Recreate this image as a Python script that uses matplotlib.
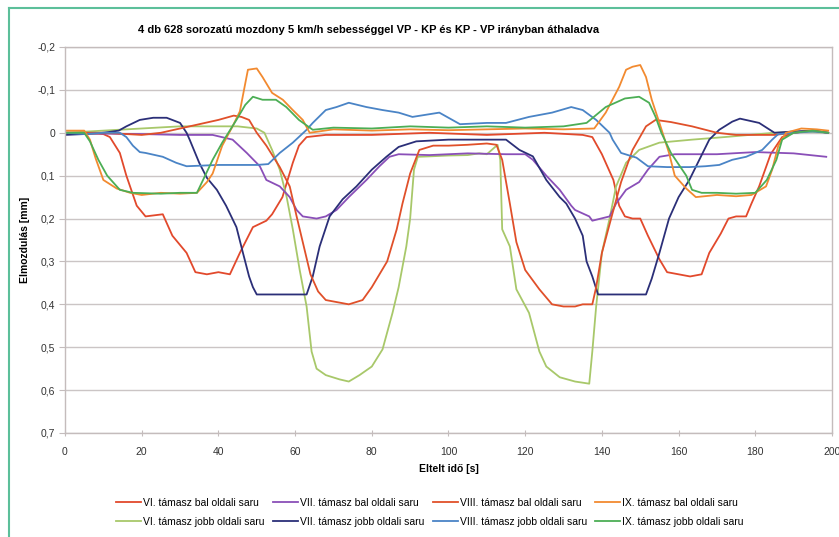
import matplotlib
matplotlib.use('Agg')
import matplotlib.pyplot as plt
from matplotlib.lines import Line2D
from matplotlib.ticker import FuncFormatter, MultipleLocator

plt.rcParams['font.family'] = ['Liberation Sans', 'DejaVu Sans']

# elmozdulás [mm] a támaszoknál, idő [s]
t_vi_bal = [0, 5, 10, 11.7, 14.3, 16, 18.7, 21, 25.5, 28, 31.7, 34, 37, 40, 43, 45.6, 49,
            52.5, 54, 56.7, 59.4, 61, 63, 68, 80, 95, 110, 125, 135, 137.5, 140, 143,
            144.5, 146, 148, 150, 152, 155, 157, 160, 163, 166, 168, 171, 173, 175,
            177.6, 179, 181, 184, 187, 190, 195, 199]
y_vi_bal = [0, 0, 0.003, 0.01, 0.047, 0.10, 0.17, 0.195, 0.19, 0.24, 0.28, 0.325, 0.33,
            0.325, 0.33, 0.28, 0.22, 0.205, 0.19, 0.15, 0.07, 0.03, 0.01, 0.005, 0.005,
            0.0, 0.005, 0.0, 0.005, 0.01, 0.05, 0.11, 0.17, 0.195, 0.2, 0.2, 0.24, 0.295,
            0.325, 0.33, 0.335, 0.33, 0.28, 0.235, 0.2, 0.195, 0.195, 0.165, 0.125, 0.05,
            0.01, 0.0, -0.005, 0.0]

t_vii_bal = [0, 10, 20, 30, 38.5, 43.7, 47.4, 50.8, 52.5, 56, 58.6, 60.4, 62, 65.6, 68,
             70.8, 74, 78.6, 82, 84.6, 87, 95, 105, 115, 120, 122, 125.5, 129, 132, 133,
             136.7, 137.5, 142, 143.7, 146.3, 149.7, 152, 155, 159, 170, 180, 190, 198.5]
y_vii_bal = [0, 0.002, 0.003, 0.005, 0.005, 0.016, 0.047, 0.078, 0.11, 0.125, 0.15, 0.18,
             0.195, 0.2, 0.195, 0.18, 0.15, 0.11, 0.078, 0.056, 0.05, 0.052, 0.048, 0.05,
             0.05, 0.063, 0.1, 0.133, 0.17, 0.18, 0.195, 0.205, 0.195, 0.165, 0.133, 0.115,
             0.086, 0.056, 0.05, 0.05, 0.045, 0.048, 0.056]

t_viii_bal = [0, 10, 20, 25, 30, 35, 40, 44, 46, 48, 50, 52.5, 56, 58.6, 60.4, 62, 64, 66,
              68, 71, 74, 77.6, 80, 84, 86.5, 88, 90, 92.4, 96, 100, 105, 110, 112.5, 114,
              116, 117.7, 120, 123.7, 127, 130, 133, 135, 137.5, 138.5, 140, 142.7, 145,
              148, 151.5, 154, 158, 163.5, 170, 175, 180, 185, 190, 195, 199]
y_viii_bal = [0, 0, 0.005, 0, -0.01, -0.02, -0.03, -0.04, -0.037, -0.03, 0.0, 0.03, 0.08,
              0.125, 0.195, 0.255, 0.33, 0.37, 0.39, 0.395, 0.40, 0.39, 0.36, 0.30, 0.225,
              0.165, 0.095, 0.04, 0.03, 0.03, 0.028, 0.025, 0.028, 0.063, 0.165, 0.255,
              0.32, 0.365, 0.40, 0.405, 0.405, 0.40, 0.40, 0.36, 0.28, 0.19, 0.115, 0.04,
              -0.015, -0.03, -0.025, -0.015, 0, 0.005, 0.005, 0.005, 0.0, -0.005, 0.0]

t_ix_bal = [0, 5, 6.5, 8, 10, 13.5, 17, 20, 25, 30, 34.4, 37, 38.5, 41, 43.7, 45.6, 47,
            47.7, 50, 51.5, 54, 56.8, 59.4, 62, 63.8, 70, 80, 90, 100, 110, 120, 130, 138,
            141, 144.5, 146.3, 148, 150, 151.5, 153, 155, 157.5, 159, 162, 164.5, 170,
            175, 179, 182.8, 184.4, 186, 188, 192, 196, 199]
y_ix_bal = [-0.005, -0.005, 0.016, 0.06, 0.11, 0.13, 0.14, 0.145, 0.14, 0.142, 0.14,
            0.115, 0.095, 0.03, -0.015, -0.05, -0.115, -0.147, -0.15, -0.13, -0.093,
            -0.077, -0.053, -0.03, 0.0, -0.008, -0.005, -0.008, -0.006, -0.008, -0.01,
            -0.008, -0.01, -0.047, -0.107, -0.147, -0.154, -0.158, -0.13, -0.077, -0.023,
            0.047, 0.1, 0.13, 0.15, 0.145, 0.148, 0.145, 0.125, 0.086, 0.03, 0.0, -0.01,
            -0.008, -0.005]

t_vi_jobb = [0, 10, 20, 30, 35, 40, 45, 50, 52, 54, 56, 57.8, 59.4, 61.2, 63, 64.3, 65.6,
             68, 71.6, 74, 76.8, 80, 82.8, 85.4, 87, 89, 90, 91, 92, 95, 100, 105, 108,
             110, 112.8, 113.5, 114, 116, 117.7, 121, 123.7, 125.5, 129, 133, 136.7,
             137.5, 138.5, 140, 142, 143.7, 146.3, 149.7, 155, 163.5, 172, 185, 192, 199]
y_vi_jobb = [0, -0.005, -0.01, -0.015, -0.015, -0.015, -0.015, -0.01, 0.0, 0.04, 0.086,
             0.15, 0.225, 0.32, 0.405, 0.51, 0.55, 0.565, 0.575, 0.58, 0.565, 0.545,
             0.505, 0.42, 0.36, 0.265, 0.2, 0.086, 0.056, 0.055, 0.053, 0.052, 0.048,
             0.05, 0.028, 0.063, 0.225, 0.265, 0.365, 0.42, 0.51, 0.545, 0.57, 0.58,
             0.585, 0.51, 0.405, 0.28, 0.2, 0.125, 0.07, 0.04, 0.023, 0.016, 0.01, 0.0,
             -0.003, 0.0]

t_vii_jobb = [0, 5, 10, 14, 16, 19.5, 23, 26.5, 30, 31.7, 32.5, 35, 37, 39.6, 42, 44.7,
              46.4, 48, 49, 50, 55, 60, 63, 64.6, 66.4, 69, 72.4, 76, 80, 83.8, 87, 91.6,
              100, 109, 115, 118.5, 122, 125.5, 129, 130.7, 133, 135, 136, 137.5, 139,
              145, 151.5, 153, 155, 157.5, 160, 162.8, 165.4, 168, 170.6, 174, 176, 181,
              185, 190, 195, 199]
y_vii_jobb = [0.005, 0.003, 0.0, -0.005, -0.015, -0.03, -0.035, -0.035, -0.023, 0.0,
              0.016, 0.07, 0.105, 0.133, 0.17, 0.22, 0.28, 0.335, 0.36, 0.377, 0.377,
              0.377, 0.377, 0.335, 0.265, 0.195, 0.155, 0.125, 0.086, 0.056, 0.033, 0.02,
              0.016, 0.016, 0.016, 0.04, 0.055, 0.11, 0.15, 0.165, 0.2, 0.24, 0.3, 0.335,
              0.377, 0.377, 0.377, 0.34, 0.28, 0.2, 0.15, 0.11, 0.063, 0.016, -0.007,
              -0.026, -0.033, -0.023, 0.0, -0.003, -0.005, 0.0]

t_viii_jobb = [0, 5, 10, 14.3, 16, 17.7, 19.5, 21, 25.5, 29, 31.7, 40, 50, 53, 56, 59.4,
               63, 64.6, 68, 70.8, 74, 78.6, 82.8, 87, 90.6, 97.6, 103, 110, 115, 121,
               127, 132, 135, 138.5, 142, 142.8, 145, 149, 152, 157, 162.8, 167, 170.6,
               174, 177.6, 181.8, 184.4, 186, 190, 195, 199]
y_viii_jobb = [0, 0.003, 0.0, 0.0, 0.01, 0.03, 0.045, 0.047, 0.056, 0.07, 0.078, 0.075,
               0.075, 0.073, 0.047, 0.023, -0.007, -0.023, -0.053, -0.06, -0.07, -0.06,
               -0.053, -0.047, -0.037, -0.047, -0.02, -0.023, -0.023, -0.037, -0.047,
               -0.06, -0.053, -0.03, 0.0, 0.016, 0.047, 0.058, 0.078, 0.08, 0.08, 0.078,
               0.075, 0.063, 0.056, 0.04, 0.016, 0.003, 0.0, -0.003, 0.0]

t_ix_jobb = [0, 5, 6.5, 8.7, 11, 14.3, 17.7, 25, 30, 34.4, 36, 38.5, 41, 44.7, 47, 49,
             51.5, 55, 57.7, 61, 64.6, 70, 80, 90, 100, 110, 120, 130, 136, 141, 146,
             149.7, 152.3, 154, 155.5, 158, 162, 163.5, 166, 170, 175, 180, 183, 185.5,
             187, 190, 195, 199]
y_ix_jobb = [0.0, 0.0, 0.02, 0.063, 0.1, 0.133, 0.14, 0.142, 0.14, 0.14, 0.11, 0.063,
             0.023, -0.03, -0.065, -0.084, -0.077, -0.077, -0.06, -0.03, -0.007, -0.012,
             -0.01, -0.015, -0.012, -0.015, -0.012, -0.015, -0.023, -0.06, -0.08, -0.084,
             -0.07, -0.037, 0.0, 0.047, 0.1, 0.133, 0.14, 0.14, 0.142, 0.14, 0.11, 0.063,
             0.016, 0.0, -0.005, 0.0]

# oszlopfolytonos sorrend: a jelmagyarázat 4 oszlopba, 2 sorba kerül
series = [
    ('VI. támasz bal oldali saru', t_vi_bal, y_vi_bal, '#e2492c'),
    ('VI. támasz jobb oldali saru', t_vi_jobb, y_vi_jobb, '#a8c86a'),
    ('VII. támasz bal oldali saru', t_vii_bal, y_vii_bal, '#8a4fb8'),
    ('VII. támasz jobb oldali saru', t_vii_jobb, y_vii_jobb, '#2b2f78'),
    ('VIII. támasz bal oldali saru', t_viii_bal, y_viii_bal, '#e0502a'),
    ('VIII. támasz jobb oldali saru', t_viii_jobb, y_viii_jobb, '#4a84c6'),
    ('IX. támasz bal oldali saru', t_ix_bal, y_ix_bal, '#f28a30'),
    ('IX. támasz jobb oldali saru', t_ix_jobb, y_ix_jobb, '#4cae55'),
]

fig = plt.figure(figsize=(8.39, 5.37), dpi=100)
ax = fig.add_axes([65 / 839, 1 - 433 / 537, (832 - 65) / 839, (433 - 47) / 537])

for label, t, y, col in series:
    ax.plot(t, y, color=col, lw=1.3, label=label)

ax.set_xlim(0, 200)
ax.set_ylim(0.7, -0.2)
ax.xaxis.set_major_locator(MultipleLocator(20))
ax.yaxis.set_major_locator(MultipleLocator(0.1))


def comma_fmt(v, pos):
    if abs(v) < 1e-9:
        return '0'
    return f'{v:.1f}'.replace('.', ',')


ax.yaxis.set_major_formatter(FuncFormatter(comma_fmt))
ax.grid(True, axis='y', color='#cbc5c5', lw=1.0)
ax.set_axisbelow(True)
for side in ('left', 'bottom', 'top', 'right'):
    ax.spines[side].set_color('#c4bcbc')
    ax.spines[side].set_linewidth(1.0)
ax.tick_params(axis='both', labelsize=7.5, colors='#333333', length=4, width=0.8)
ax.tick_params(axis='x', direction='inout', pad=8, color='#c4bcbc')
ax.tick_params(axis='y', direction='out', pad=3, color='#c4bcbc')

ax.set_xlabel('Eltelt idő [s]', fontsize=7.5, fontweight='bold', labelpad=5)
ax.set_ylabel('Elmozdulás [mm]', fontsize=7.5, fontweight='bold', labelpad=5)
fig.text(369 / 839, 1 - 30 / 537,
         '4 db 628 sorozatú mozdony 5 km/h sebességgel VP - KP és KP - VP irányban áthaladva',
         ha='center', va='center', fontsize=8, fontweight='bold')

handles, labels = ax.get_legend_handles_labels()
fig.legend(handles, labels, ncol=4, loc='center', bbox_to_anchor=(430 / 839, 1 - 512.5 / 537),
           frameon=False, fontsize=7.5, handlelength=2.4, handletextpad=0.2,
           columnspacing=0.8, labelspacing=0.85, borderpad=0.2)

# zöld keret a kép szélén
fig.add_artist(Line2D([9 / 839, 1], [1 - 8 / 537, 1 - 8 / 537], color='#5cbf9a', lw=1.5))
fig.add_artist(Line2D([9 / 839, 9 / 839], [0, 1 - 8 / 537], color='#5cbf9a', lw=1.5))

fig.savefig('out.png', dpi=100)
